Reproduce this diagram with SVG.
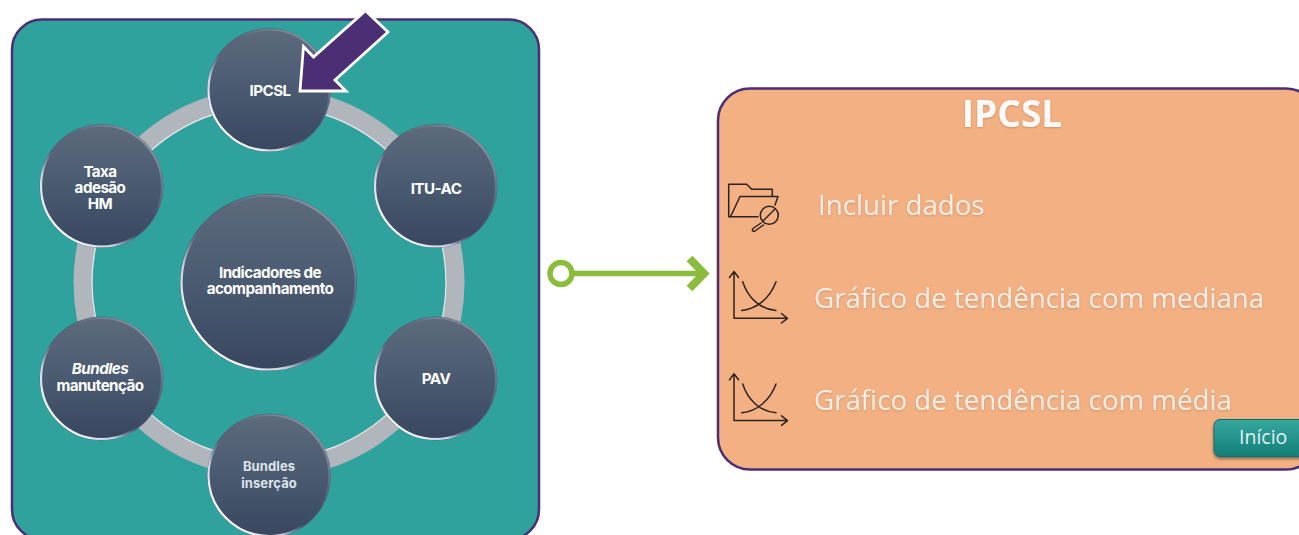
<svg xmlns="http://www.w3.org/2000/svg" width="1299" height="535" viewBox="0 0 1299 535">
<style>
.lbl{font-family:"Inter","Liberation Sans",sans-serif;font-weight:700;font-size:15.2px;fill:#fff;text-anchor:middle;letter-spacing:-.55px}
.opt{font-family:"Open Sans","Liberation Sans",sans-serif;font-size:27.700px;fill:#fff;fill-opacity:.8;filter:url(#soft)}
.ic{fill:none;stroke:#2b2320;stroke-width:1.500;stroke-linecap:round;stroke-linejoin:round}
.disc{fill:url(#disc);stroke:#4f5d70;stroke-width:1}
.rim{fill:none;stroke:url(#rim);stroke-width:2.200}
</style>
<defs>
<linearGradient id="disc" x1="0" y1="0" x2="0" y2="1"><stop offset="0" stop-color="#5d6b7b"/><stop offset=".5" stop-color="#4a5a71"/><stop offset="1" stop-color="#38475f"/></linearGradient>
<linearGradient id="rim" x1="0.15" y1="0.85" x2="0.85" y2="0.15"><stop offset="0" stop-color="#fbfcfe"/><stop offset=".22" stop-color="#dfe7f2" stop-opacity=".85"/><stop offset=".42" stop-color="#8ea3c4" stop-opacity="0"/><stop offset=".62" stop-color="#8ea3c4" stop-opacity="0"/><stop offset="1" stop-color="#a9b2bf" stop-opacity=".55"/></linearGradient>
<linearGradient id="btn" x1="0" y1="0" x2="0" y2="1"><stop offset="0" stop-color="#36a79f"/><stop offset="1" stop-color="#137f78"/></linearGradient>
<filter id="soft" x="-5%" y="-30%" width="110%" height="160%"><feDropShadow dx="0" dy="1" stdDeviation="1" flood-color="#a87850" flood-opacity=".6"/></filter>
<filter id="sh" x="-20%" y="-20%" width="140%" height="150%"><feDropShadow dx="0" dy="2" stdDeviation="1.500" flood-color="#4a4a40" flood-opacity=".7"/></filter>
<g id="chart" class="ic"><path d="M734 272V318.300H787M729.500 277.500L734 271.500L738.500 277.500M781.500 313.500L787.500 318.300L781.500 323"/><path d="M742.700 281.700C748 298 760 309 776 310.500M741.700 310.500C757 309 770 298 776 281.700"/></g>
</defs>
<rect width="1299" height="535" fill="#fff"/>
<g id="panel-left"><rect x="12" y="19.500" width="527" height="520" rx="30" fill="#2fa29e" stroke="#4b2e73" stroke-width="2.500"/></g>
<g id="connectors">
<circle cx="269" cy="282.500" r="186" fill="none" stroke="#b1b5bc" stroke-width="19"/>
<circle cx="269" cy="282.500" r="177" fill="none" stroke="#e4e7ea" stroke-width="1.200"/>
<g fill="none" stroke="#8cbc3c"><circle cx="561" cy="273.500" r="11" stroke-width="5.500" fill="#fff"/><path d="M574 273.500H704" stroke-width="5.500"/><path d="M689.500 258.500L704 273.500L689.500 288.500" stroke-width="8"/></g>
</g>
<g id="node-center"><circle class="disc" cx="268.500" cy="282.500" r="88"/><circle class="rim" cx="268.500" cy="282.500" r="87"/><text class="lbl" y="278"><tspan x="270">Indicadores de</tspan><tspan x="270" dy="16">acompanhamento</tspan></text></g>
<g id="node-ipcsl"><circle class="disc" cx="269" cy="90" r="61.500"/><circle class="rim" cx="269" cy="90" r="60.500"/><text class="lbl" x="270" y="96">IPCSL</text></g>
<g id="node-itu"><circle class="disc" cx="435.500" cy="186" r="61.500"/><circle class="rim" cx="435.500" cy="186" r="60.500"/><text class="lbl" x="436" y="194">ITU-AC</text></g>
<g id="node-pav"><circle class="disc" cx="435.500" cy="378.500" r="61.500"/><circle class="rim" cx="435.500" cy="378.500" r="60.500"/><text class="lbl" x="436" y="384">PAV</text></g>
<g id="node-insercao"><circle class="disc" cx="269" cy="475.500" r="61.500"/><circle class="rim" cx="269" cy="475.500" r="60.500"/><text class="lbl" y="471" style="font-size:13px;letter-spacing:.1px;fill:#dfe3e8"><tspan x="269">Bundles</tspan><tspan x="269" dy="17">inserção</tspan></text></g>
<g id="node-manutencao"><circle class="disc" cx="101.500" cy="378.500" r="61.500"/><circle class="rim" cx="101.500" cy="378.500" r="60.500"/><text class="lbl" y="374"><tspan x="100" font-style="italic">Bundles</tspan><tspan x="100" dy="17">manutenção</tspan></text></g>
<g id="node-taxa"><circle class="disc" cx="101.500" cy="186" r="61.500"/><circle class="rim" cx="101.500" cy="186" r="60.500"/><text class="lbl" y="177"><tspan x="100">Taxa</tspan><tspan x="100" dy="16">adesão</tspan><tspan x="100" dy="16">HM</tspan></text></g>
<g id="pointer"><path d="M300 91L303.500 46.500L313.500 57L365.500 10.700L388 32L335 80L346 91Z" fill="#4b2e73" stroke="#fff" stroke-width="2.800"/></g>
<g id="panel-right"><rect x="718" y="88.500" width="600" height="381" rx="32" fill="#f3b083" stroke="#4b2e73" stroke-width="2.500"/>
<text x="1012" y="127" font-family="'Open Sans','Liberation Sans',sans-serif" font-weight="700" font-size="37" fill="#fff" fill-opacity=".95" text-anchor="middle" filter="url(#soft)">IPCSL</text></g>
<g id="item-dados"><g class="ic"><path d="M772.300 196V189.300H751.700L746.700 184.300H728.700V216.700H758"/><path d="M730.500 216.700L740 196.500H778L775 205"/><circle cx="769.300" cy="215.300" r="9"/><path d="M761 223L753 228.500C751.500 230 753 232 755 231L763.500 225"/><path d="M763 221L775 209"/></g><text class="opt" x="818" y="215">Incluir dados</text></g>
<g id="item-mediana"><use href="#chart"/><text class="opt" x="814" y="308">Gráfico de tendência com mediana</text></g>
<g id="item-media"><use href="#chart" y="102.300"/><text class="opt" x="814" y="410">Gráfico de tendência com média</text></g>
<g id="btn-inicio"><rect x="1214" y="419.500" width="100" height="37" rx="6" fill="url(#btn)" stroke="#0f6f69" filter="url(#sh)"/><text x="1239" y="444" font-family="'Open Sans','Liberation Sans',sans-serif" font-size="19.500" fill="#fff" fill-opacity=".9">Início</text></g>
</svg>
